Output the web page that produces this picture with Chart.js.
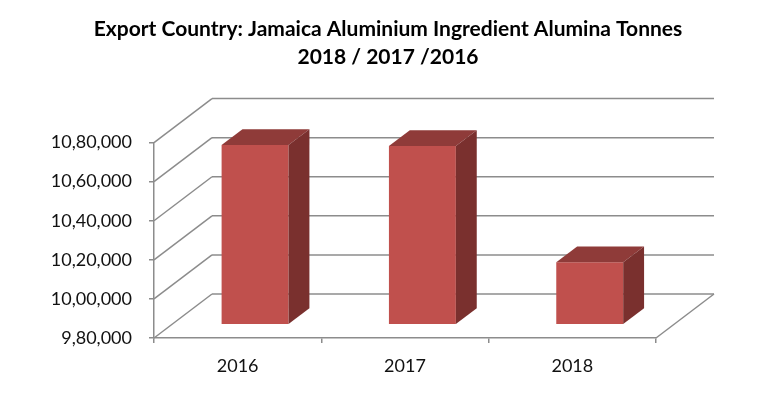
<!DOCTYPE html>
<html>
<head>
<meta charset="utf-8">
<script src="https://cdn.jsdelivr.net/npm/chart.js@4.4.1/dist/chart.umd.min.js"></script>
<style>
  body { margin: 0; background: #fff; }
  #wrap { width: 776px; height: 393px; }
</style>
</head>
<body>
<div id="wrap"><canvas id="myChart"></canvas></div>
<script>
// data
var years = ['2016', '2017', '2018'];
var tonnes = [1072000, 1071500, 1012000];
var axisMin = 980000;
var axisMax = 1080000;
var axisStep = 20000;

// 3D look (pixel offsets of the box depth)
var DX = 58, DY = -44;
var barFront = 0.3, barDepth = 0.36;
var gridColor = '#8c8c8c';

// 10,80,000 style numbers
function indianFormat(v) {
    var s = String(Math.round(v));
    if (s.length <= 3) return s;
    var last3 = s.slice(-3);
    var rest = s.slice(0, -3).replace(/\B(?=(\d{2})+(?!\d))/g, ',');
    return rest + ',' + last3;
}

function line(ctx, x1, y1, x2, y2) {
    ctx.beginPath();
    ctx.moveTo(x1, y1);
    ctx.lineTo(x2, y2);
    ctx.stroke();
}

var box3d = {
    id: 'box3d',
    beforeDatasetsDraw: function(chart) {
        var ctx = chart.ctx, a = chart.chartArea, ys = chart.scales.y;
        ctx.save();
        ctx.strokeStyle = gridColor;
        ctx.lineWidth = 1.5;
        ys.ticks.forEach(function(t) {
            var py = ys.getPixelForValue(t.value);
            line(ctx, a.left, py, a.left + DX, py + DY);          // left wall
            line(ctx, a.left + DX, py + DY, a.right + DX, py + DY); // back wall
        });
        line(ctx, a.right, a.bottom, a.right + DX, a.bottom + DY);  // floor edge
        ctx.restore();
        // push the front faces into the box
        ctx.save();
        ctx.translate(DX * barFront, DY * barFront);
    },
    afterDatasetsDraw: function(chart) {
        var ctx = chart.ctx;
        ctx.restore();
        var fx = DX * barFront, fy = DY * barFront;
        var bx = DX * barDepth, by = DY * barDepth;
        chart.getDatasetMeta(0).data.forEach(function(el) {
            var L = el.x - el.width / 2 + fx, R = el.x + el.width / 2 + fx;
            var T = el.y + fy, B = el.base + fy;
            // top face
            ctx.fillStyle = '#8f3b39';
            ctx.beginPath();
            ctx.moveTo(L, T); ctx.lineTo(R, T); ctx.lineTo(R + bx, T + by); ctx.lineTo(L + bx, T + by);
            ctx.closePath(); ctx.fill();
            // side face
            ctx.fillStyle = '#7a302e';
            ctx.beginPath();
            ctx.moveTo(R, T); ctx.lineTo(R + bx, T + by); ctx.lineTo(R + bx, B + by); ctx.lineTo(R, B);
            ctx.closePath(); ctx.fill();
        });
    }
};

var ctx = document.getElementById('myChart').getContext('2d');
var myChart = new Chart(ctx, {
    type: 'bar',
    data: {
        labels: years,
        datasets: [{
            label: 'Tonnes',
            data: tonnes,
            base: axisMin,
            backgroundColor: '#c0504d',
            barPercentage: 0.4,
            categoryPercentage: 1,
            clip: false
        }]
    },
    options: {
        responsive: true,
        maintainAspectRatio: false,
        animation: false,
        events: [],
        layout: { padding: 0 },
        plugins: {
            legend: { display: false },
            tooltip: { enabled: false },
            title: {
                display: true,
                text: ['Export Country: Jamaica Aluminium Ingredient Alumina Tonnes', '2018 / 2017 /2016'],
                color: '#000',
                font: { family: 'Lato', size: 21, weight: 'bold', lineHeight: 1.3 },
                padding: { top: 16, bottom: 72 }
            }
        },
        scales: {
            x: {
                grid: { display: true, drawOnChartArea: false, drawTicks: true, tickLength: 5, color: gridColor, lineWidth: 1.5 },
                border: { display: true, color: gridColor, width: 1.5 },
                ticks: { color: '#111', font: { family: 'Lato', size: 18 }, padding: 12 },
                afterFit: function(scale) { scale.height = 55; }
            },
            y: {
                min: axisMin,
                max: axisMax,
                grid: { display: true, drawOnChartArea: false, drawTicks: true, tickLength: 5, color: gridColor, lineWidth: 1.5 },
                border: { display: true, color: gridColor, width: 1.5 },
                ticks: {
                    stepSize: axisStep,
                    color: '#111',
                    font: { family: 'Lato', size: 18 },
                    padding: 17,
                    callback: function(v) { return indianFormat(v); }
                },
                afterFit: function(scale) { scale.width = 154; }
            },
            // empty space on the right for the box depth
            spacer: {
                position: 'right',
                min: 0,
                max: 1,
                grid: { display: false },
                border: { display: false },
                ticks: { display: false },
                afterFit: function(scale) { scale.width = 120; }
            }
        }
    },
    plugins: [box3d]
});
</script>
</body>
</html>
